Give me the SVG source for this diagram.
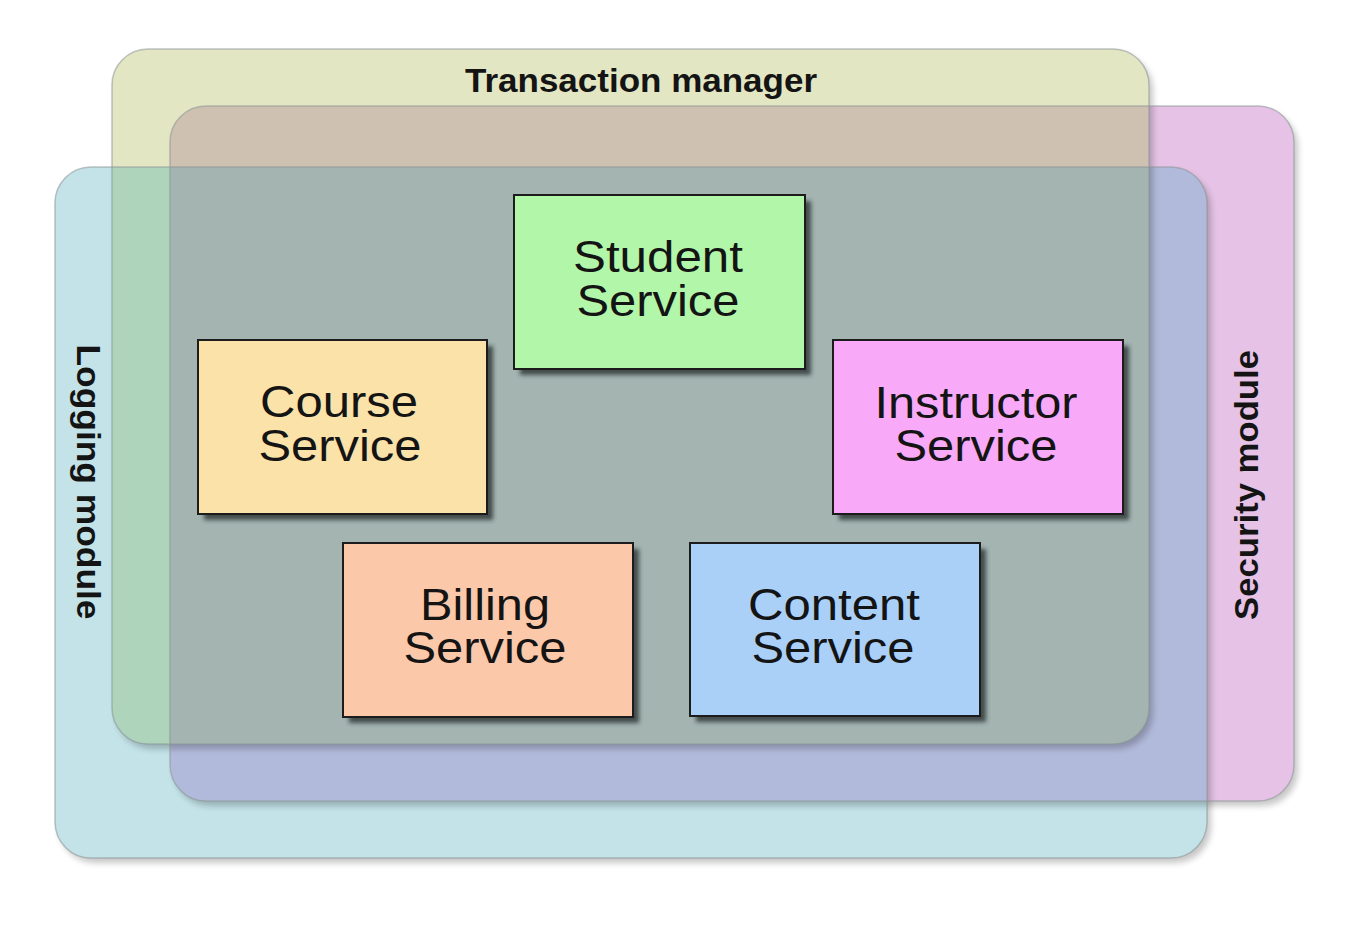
<svg xmlns="http://www.w3.org/2000/svg" width="1350" height="928" viewBox="0 0 1350 928">
<defs>
<style>
.lbl{font-family:"Liberation Sans",Arial,sans-serif;font-weight:bold;font-size:33px;fill:#141414;text-anchor:middle}
.nt{font-family:"Liberation Sans",Arial,sans-serif;font-size:44px;fill:#141414;text-anchor:middle}
.node{stroke:#1c1c1c;stroke-width:2}
.nshadow{fill:#2c3333;opacity:.8}
.edge{fill:none;stroke:#8a9494;stroke-opacity:.55;stroke-width:1.5}
.cshadow{fill:#000;opacity:.22}
</style>
<filter id="blur3" x="-5%" y="-5%" width="110%" height="110%"><feGaussianBlur stdDeviation="3"/></filter>
<filter id="blur2" x="-10%" y="-10%" width="120%" height="120%"><feGaussianBlur stdDeviation="2"/></filter>
<clipPath id="cT"><rect x="112" y="49" width="1037" height="695" rx="36"/></clipPath>
<clipPath id="cS"><rect x="170" y="106" width="1124" height="695" rx="36"/></clipPath>
<mask id="outT"><rect width="1350" height="928" fill="#fff"/><rect x="112" y="49" width="1037" height="695" rx="36" fill="#000"/></mask>
<mask id="outS"><rect width="1350" height="928" fill="#fff"/><rect x="170" y="106" width="1124" height="695" rx="36" fill="#000"/></mask>
<mask id="outL"><rect width="1350" height="928" fill="#fff"/><rect x="55" y="167" width="1152" height="691" rx="36" fill="#000"/></mask>
</defs>
<rect width="1350" height="928" fill="#fff"/>

<g id="security-module">
<rect x="170" y="106" width="1124" height="695" rx="36" fill="#e6c3e6"/>
<text class="lbl" transform="translate(1258,485) rotate(-90)" textLength="270" lengthAdjust="spacingAndGlyphs">Security module</text>
</g>
<g id="transaction-manager">
<rect x="112" y="49" width="1037" height="695" rx="36" fill="#e3e6c3"/>
<text class="lbl" x="641" y="92" textLength="352" lengthAdjust="spacingAndGlyphs">Transaction manager</text>
</g>
<g id="logging-module">
<rect x="55" y="167" width="1152" height="691" rx="36" fill="#c3e3e8"/>
<text class="lbl" transform="translate(77,482) rotate(90)" textLength="275" lengthAdjust="spacingAndGlyphs">Logging module</text>
</g>

<g id="overlaps">
<g clip-path="url(#cS)"><rect x="112" y="49" width="1037" height="695" rx="36" fill="#cfc1b2"/></g>
<g clip-path="url(#cS)"><rect x="55" y="167" width="1152" height="691" rx="36" fill="#b2badb"/></g>
<g clip-path="url(#cT)"><rect x="55" y="167" width="1152" height="691" rx="36" fill="#aed4bc"/></g>
<g clip-path="url(#cS)"><g clip-path="url(#cT)"><rect x="55" y="167" width="1152" height="691" rx="36" fill="#a3b4b1"/></g></g>
</g>

<g id="container-edges">
<rect class="cshadow" x="116" y="54" width="1037" height="695" rx="36" filter="url(#blur3)" mask="url(#outT)"/>
<rect class="cshadow" x="174" y="111" width="1124" height="695" rx="36" filter="url(#blur3)" mask="url(#outS)"/>
<rect class="cshadow" x="59" y="172" width="1152" height="691" rx="36" filter="url(#blur3)" mask="url(#outL)"/>
<rect class="edge" x="112" y="49" width="1037" height="695" rx="36"/>
<rect class="edge" x="170" y="106" width="1124" height="695" rx="36"/>
<rect class="edge" x="55" y="167" width="1152" height="691" rx="36"/>
</g>

<g id="connectors"></g>

<g id="student-service">
<rect class="nshadow" x="520" y="201" width="291" height="174" filter="url(#blur2)"/>
<rect class="node" x="514" y="195" width="291" height="174" fill="#b2f7a9"/>
<text class="nt" x="658" y="272" textLength="170" lengthAdjust="spacingAndGlyphs">Student</text>
<text class="nt" x="658" y="316" textLength="163" lengthAdjust="spacingAndGlyphs">Service</text>
</g>
<g id="course-service">
<rect class="nshadow" x="204" y="346" width="289" height="174" filter="url(#blur2)"/>
<rect class="node" x="198" y="340" width="289" height="174" fill="#fbe2a9"/>
<text class="nt" x="339" y="417" textLength="158" lengthAdjust="spacingAndGlyphs">Course</text>
<text class="nt" x="340" y="461" textLength="163" lengthAdjust="spacingAndGlyphs">Service</text>
</g>
<g id="instructor-service">
<rect class="nshadow" x="839" y="346" width="290" height="174" filter="url(#blur2)"/>
<rect class="node" x="833" y="340" width="290" height="174" fill="#f8aaf8"/>
<text class="nt" x="976" y="418" textLength="203" lengthAdjust="spacingAndGlyphs">Instructor</text>
<text class="nt" x="976" y="461" textLength="163" lengthAdjust="spacingAndGlyphs">Service</text>
</g>
<g id="billing-service">
<rect class="nshadow" x="349" y="549" width="290" height="174" filter="url(#blur2)"/>
<rect class="node" x="343" y="543" width="290" height="174" fill="#fbc8aa"/>
<text class="nt" x="485" y="620" textLength="130" lengthAdjust="spacingAndGlyphs">Billing</text>
<text class="nt" x="485" y="663" textLength="163" lengthAdjust="spacingAndGlyphs">Service</text>
</g>
<g id="content-service">
<rect class="nshadow" x="696" y="549" width="290" height="173" filter="url(#blur2)"/>
<rect class="node" x="690" y="543" width="290" height="173" fill="#aad0f8"/>
<text class="nt" x="834" y="620" textLength="172" lengthAdjust="spacingAndGlyphs">Content</text>
<text class="nt" x="833" y="663" textLength="163" lengthAdjust="spacingAndGlyphs">Service</text>
</g>
</svg>
